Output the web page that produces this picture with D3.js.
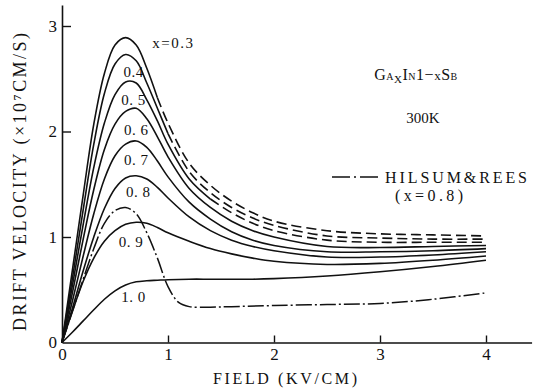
<!DOCTYPE html>
<html>
<head>
<meta charset="utf-8">
<script src="https://cdn.jsdelivr.net/npm/d3@7"></script>
<style>
  body { margin: 0; background: #fff; }
  svg { display: block; }
  text { font-family: "Liberation Serif", "DejaVu Serif", serif; fill: #111; }
</style>
</head>
<body>
<script>
// field samples (kV/cm) shared by the x = 0.3 ... 1.0 curves
const field = [0, 0.1, 0.2, 0.3, 0.4, 0.5, 0.6, 0.7, 0.8, 0.9, 1.0, 1.2, 1.4, 1.6, 1.8, 2.0, 2.5, 3.0, 3.5, 4.0];

// drift velocity (x10^7 cm/s) per composition
const v03 = [0, 0.70, 1.40, 2.07, 2.55, 2.82, 2.89, 2.82, 2.60, 2.32, 2.08, 1.70, 1.49, 1.34, 1.23, 1.15, 1.06, 1.03, 1.02, 1.01];
const v04 = [0, 0.62, 1.26, 1.88, 2.36, 2.64, 2.73, 2.67, 2.46, 2.22, 1.98, 1.62, 1.42, 1.28, 1.18, 1.11, 1.01, 0.99, 0.98, 0.98];
const v05 = [0, 0.55, 1.12, 1.66, 2.08, 2.35, 2.47, 2.46, 2.30, 2.10, 1.88, 1.55, 1.36, 1.23, 1.13, 1.06, 0.97, 0.95, 0.95, 0.95];
const v06 = [0, 0.48, 0.98, 1.45, 1.83, 2.07, 2.19, 2.22, 2.12, 1.95, 1.76, 1.46, 1.28, 1.15, 1.06, 1.00, 0.91, 0.90, 0.91, 0.92];
const v07 = [0, 0.40, 0.82, 1.22, 1.55, 1.77, 1.88, 1.91, 1.85, 1.72, 1.57, 1.33, 1.17, 1.05, 0.97, 0.92, 0.86, 0.86, 0.87, 0.89];
const v08 = [0, 0.33, 0.68, 1.00, 1.27, 1.46, 1.56, 1.58, 1.55, 1.47, 1.37, 1.19, 1.06, 0.97, 0.91, 0.87, 0.81, 0.81, 0.83, 0.86];
const v09 = [0, 0.30, 0.58, 0.80, 0.96, 1.06, 1.12, 1.14, 1.13, 1.09, 1.04, 0.96, 0.89, 0.84, 0.80, 0.77, 0.74, 0.75, 0.78, 0.82];
const v10 = [0, 0.10, 0.205, 0.31, 0.41, 0.49, 0.545, 0.575, 0.585, 0.59, 0.595, 0.60, 0.60, 0.60, 0.60, 0.605, 0.63, 0.67, 0.72, 0.78];

// Hilsum & Rees, x = 0.8
const hilsumField = [0, 0.1, 0.2, 0.3, 0.4, 0.5, 0.6, 0.7, 0.8, 0.9, 1.0, 1.1, 1.2, 1.4, 1.6, 2.0, 2.5, 3.0, 3.5, 4.0];
const hilsumV = [0, 0.30, 0.60, 0.89, 1.13, 1.25, 1.28, 1.22, 1.04, 0.80, 0.53, 0.38, 0.34, 0.335, 0.34, 0.35, 0.36, 0.37, 0.41, 0.47];

const compositions = ["x=0.3", "0.4", "0. 5", "0. 6", "0. 7", "0. 8", "0. 9", "1. 0"];
const series = [v03, v04, v05, v06, v07, v08, v09, v10];
// field where a curve turns dashed (null = solid all the way)
const dashFrom = [0.9, 1.0, 1.4, null, null, null, null, null];
// label anchors in data units (field, velocity)
const labelAt = [[1.05, 2.84], [0.675, 2.56], [0.675, 2.30], [0.70, 2.01], [0.70, 1.73], [0.72, 1.43], [0.65, 0.95], [0.675, 0.43]];

const xTicks = [0, 1, 2, 3, 4];
const yTicks = [0, 1, 2, 3];

const width = 535, height = 389;

const svg = d3.select("body").append("svg")
    .attr("width", width)
    .attr("height", height);

const x = d3.scaleLinear().domain([0, 4.43]).range([62, 62 + 4.43 * 106]);
const y = d3.scaleLinear().domain([0, 3.2]).range([342.5, 342.5 - 3.2 * 105.5]);

// axes, ticks point into the plot
const xAxis = svg.append("g")
    .attr("transform", `translate(0,${y(0)})`)
    .call(d3.axisBottom(x).tickValues(xTicks).tickFormat(d3.format("d"))
        .tickSizeInner(-7).tickSizeOuter(0).tickPadding(5));

const yAxis = svg.append("g")
    .attr("transform", `translate(${x(0)},0)`)
    .call(d3.axisLeft(y).tickValues(yTicks).tickFormat(d3.format("d"))
        .tickSizeInner(-9).tickSizeOuter(0).tickPadding(5));

[xAxis, yAxis].forEach(g => {
    g.select(".domain").attr("stroke", "#111").attr("stroke-width", 1.6);
    g.selectAll(".tick line").attr("stroke", "#111").attr("stroke-width", 1.4);
    g.selectAll(".tick text")
        .attr("font-family", "Liberation Serif, serif")
        .attr("font-size", 17)
        .attr("fill", "#111");
});
xAxis.selectAll(".tick").filter(d => d === 0).select("line").remove();
yAxis.selectAll(".tick").filter(d => d === 0).select("line").remove();

// axis titles
svg.append("text")
    .attr("x", 285).attr("y", 384)
    .attr("text-anchor", "middle")
    .attr("font-size", 16)
    .attr("textLength", 144).attr("lengthAdjust", "spacing")
    .text("FIELD (KV/CM)");

svg.append("text")
    .attr("transform", "translate(26,182) rotate(-90)")
    .attr("text-anchor", "middle")
    .attr("font-size", 18)
    .attr("textLength", 298).attr("lengthAdjust", "spacing")
    .text("DRIFT VELOCITY (×10⁷CM/S)");

// curves
const line = d3.line()
    .x(d => x(d[0]))
    .y(d => y(d[1]))
    .curve(d3.curveCatmullRom.alpha(0.5));

const plot = svg.append("g")
    .attr("fill", "none")
    .attr("stroke", "#111")
    .attr("stroke-width", 1.6);

series.forEach((vals, i) => {
    const pts = field.map((f, j) => [f, vals[j]]);
    const cut = dashFrom[i];
    if (cut == null) {
        plot.append("path").attr("d", line(pts));
    } else {
        plot.append("path").attr("d", line(pts.filter(p => p[0] <= cut)));
        plot.append("path").attr("d", line(pts.filter(p => p[0] >= cut)))
            .attr("stroke-dasharray", "10,5");
    }
});

plot.append("path")
    .attr("d", line(hilsumField.map((f, j) => [f, hilsumV[j]])))
    .attr("stroke-width", 1.5)
    .attr("stroke-dasharray", "16,3,2,3");

// curve labels
svg.append("g").selectAll("text")
    .data(compositions)
    .join("text")
    .attr("x", (d, i) => x(labelAt[i][0]))
    .attr("y", (d, i) => y(labelAt[i][1]))
    .attr("text-anchor", "middle")
    .attr("dominant-baseline", "central")
    .attr("font-size", 15)
    .attr("letter-spacing", (d, i) => i === 0 ? 1.5 : 0.5)
    .text(d => d);

// material / temperature annotation
const mat = svg.append("text")
    .attr("x", 416).attr("y", 80)
    .attr("text-anchor", "middle")
    .attr("letter-spacing", 0.5);
[["G", 16, 0], ["A", 10, 0], ["X", 11, 3], ["I", 16, -3], ["N", 10, 0], ["1−", 16, 0], ["x", 13, 0], ["S", 16, 0], ["B", 10, 0]]
    .forEach(([t, s, dy]) => mat.append("tspan").attr("font-size", s).attr("dy", dy).text(t));

svg.append("text")
    .attr("x", 423).attr("y", 123)
    .attr("text-anchor", "middle")
    .attr("font-size", 15)
    .text("300K");

// legend for Hilsum & Rees
svg.append("line")
    .attr("x1", 332).attr("x2", 381)
    .attr("y1", 177).attr("y2", 177)
    .attr("stroke", "#111").attr("stroke-width", 1.5)
    .attr("stroke-dasharray", "18,4,2,4");

svg.append("text")
    .attr("x", 385).attr("y", 183)
    .attr("font-size", 16)
    .attr("textLength", 142).attr("lengthAdjust", "spacing")
    .text("HILSUM&REES");

svg.append("text")
    .attr("x", 395).attr("y", 201)
    .attr("font-size", 16)
    .attr("textLength", 68).attr("lengthAdjust", "spacing")
    .text("(x=0.8)");
</script>
</body>
</html>
